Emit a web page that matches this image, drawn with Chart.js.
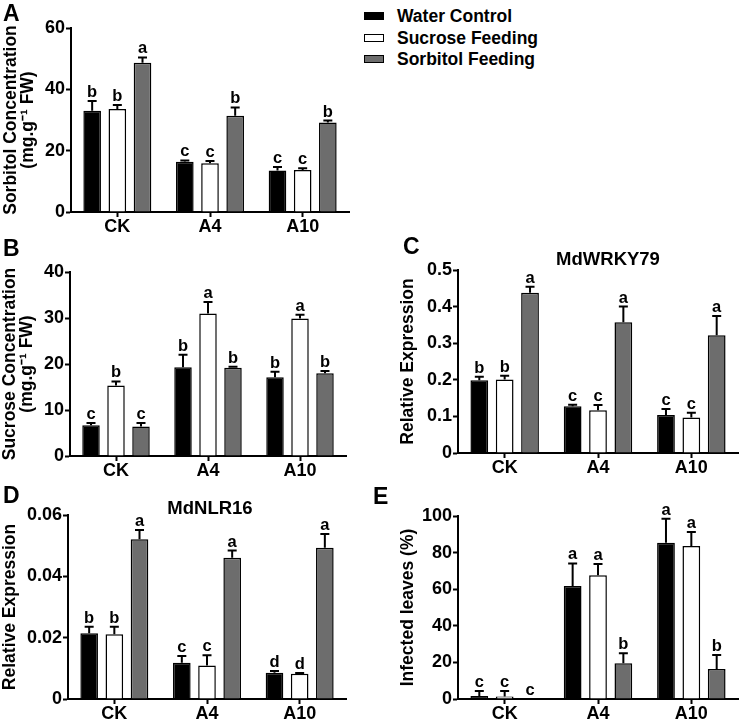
<!DOCTYPE html>
<html>
<head>
<meta charset="utf-8">
<script src="https://cdn.jsdelivr.net/npm/chart.js@4.4.1/dist/chart.umd.min.js"></script>
<style>
  body { margin: 0; background: #fff; }
  #page { position: relative; width: 740px; height: 721px; overflow: hidden;
          font-family: "Liberation Sans", Arial, sans-serif; font-weight: bold; color: #000; }
  canvas { position: absolute; }
  .letter { position: absolute; font-size: 23px; line-height: 1; }
  .sub { position: absolute; width: 200px; text-align: center; font-size: 18.5px; line-height: 1; }
  .key { position: absolute; left: 364px; font-size: 17.5px; line-height: 1; }
  .key span { position: absolute; left: 0; width: 18px; height: 6px; border: 1.5px solid #000; }
  .key b { position: absolute; left: 33px; white-space: nowrap; }
</style>
</head>
<body>
<div id="page">
  <canvas id="chartA"></canvas>
  <canvas id="chartB"></canvas>
  <canvas id="chartC"></canvas>
  <canvas id="chartD"></canvas>
  <canvas id="chartE"></canvas>

  <div class="letter" style="left:3px;top:2px">A</div>
  <div class="letter" style="left:3px;top:237px">B</div>
  <div class="letter" style="left:403px;top:235px">C</div>
  <div class="letter" style="left:3px;top:484px">D</div>
  <div class="letter" style="left:373px;top:485px">E</div>

  <div class="sub" style="left:508px;top:250px">MdWRKY79</div>
  <div class="sub" style="left:110px;top:499px">MdNLR16</div>

  <div id="legend"></div>
</div>

<script>
// categories and series
const groups = ["CK", "A4", "A10"];
const seriesNames = ["Water Control", "Sucrose Feeding", "Sorbitol Feeding"];
const seriesColors = ["#000000", "#ffffff", "#6d6d6d"];

// A: sorbitol concentration (mg/g FW)
const sorbWater = [33.0, 16.4, 13.5];
const sorbSucrose = [33.6, 15.9, 13.7];
const sorbSorbitol = [48.7, 31.4, 29.2];
const sorbErr = [[3.2, 0.4, 1.2], [1.3, 0.7, 0.6], [1.7, 2.7, 0.6]];
const sorbLetters = [["b", "c", "c"], ["b", "c", "c"], ["a", "b", "b"]];
const sorbTicks = [0, 20, 40, 60];

// B: sucrose concentration (mg/g FW)
const sucWater = [6.7, 19.3, 17.1];
const sucSucrose = [15.3, 31.0, 29.9];
const sucSorbitol = [6.4, 19.2, 18.0];
const sucErr = [[0.5, 2.7, 1.2], [0.9, 2.5, 0.8], [0.8, 0.2, 0.5]];
const sucLetters = [["c", "b", "b"], ["b", "a", "a"], ["c", "b", "b"]];
const sucTicks = [0, 10, 20, 30, 40];

// C: MdWRKY79 relative expression
const wrkyWater = [0.199, 0.128, 0.104];
const wrkySucrose = [0.201, 0.117, 0.097];
const wrkySorbitol = [0.438, 0.357, 0.322];
const wrkyErr = [[0.009, 0.004, 0.016], [0.010, 0.014, 0.013], [0.016, 0.043, 0.052]];
const wrkyLetters = [["b", "c", "c"], ["b", "c", "c"], ["a", "a", "a"]];
const wrkyTicks = [0, 0.1, 0.2, 0.3, 0.4, 0.5];

// D: MdNLR16 relative expression
const nlrWater = [0.0214, 0.0118, 0.0086];
const nlrSucrose = [0.0211, 0.0109, 0.0082];
const nlrSorbitol = [0.0521, 0.0461, 0.0493];
const nlrErr = [[0.0022, 0.0022, 0.0005], [0.0025, 0.0034, 0.0003], [0.0030, 0.0023, 0.0045]];
const nlrLetters = [["b", "c", "d"], ["b", "c", "d"], ["a", "a", "a"]];
const nlrTicks = [0, 0.02, 0.04, 0.06];

// E: infected leaves (%)
const infWater = [1.6, 61.7, 85.4];
const infSucrose = [1.3, 67.6, 83.6];
const infSorbitol = [0, 19.5, 16.4];
const infErr = [[2.8, 12.4, 13.1], [3.1, 6.2, 7.7], [0, 5.5, 7.6]];
const infLetters = [["c", "a", "a"], ["c", "a", "a"], ["c", "b", "b"]];
const infTicks = [0, 20, 40, 60, 80, 100];

Chart.defaults.font.family = "'Liberation Sans', Arial, sans-serif";
Chart.defaults.font.weight = "bold";
Chart.defaults.color = "#000";

const X_AXIS_H = 22;

// draws the upper error bar and the significance letter on every bar
const errorBars = {
  id: "errorBars",
  afterDatasetsDraw(chart) {
    const ctx = chart.ctx;
    const yScale = chart.scales.y;
    ctx.save();
    ctx.strokeStyle = "#000";
    ctx.lineWidth = 2;
    ctx.fillStyle = "#000";
    ctx.font = "bold 16.5px 'Liberation Sans', Arial, sans-serif";
    ctx.textAlign = "center";
    ctx.textBaseline = "alphabetic";
    chart.data.datasets.forEach((ds, i) => {
      chart.getDatasetMeta(i).data.forEach((bar, j) => {
        const v = ds.data[j];
        const e = ds.errors[j];
        const top = yScale.getPixelForValue(v + e);
        if (e > 0) {
          ctx.beginPath();
          ctx.moveTo(bar.x, bar.y);
          ctx.lineTo(bar.x, top);
          ctx.moveTo(bar.x - 4.5, top);
          ctx.lineTo(bar.x + 4.5, top);
          ctx.stroke();
        }
        ctx.fillText(ds.letters[j], bar.x, top - 4);
      });
    });
    ctx.restore();
  },
};

function barChart(id, box, plot, yTicks, yTitle, titleX, series, errs, letters) {
  const canvas = document.getElementById(id);
  canvas.width = box.w;
  canvas.height = box.h;
  canvas.style.left = box.x + "px";
  canvas.style.top = box.y + "px";
  const axisLine = { display: true, color: "#000", width: 2 };
  const tickGrid = { drawOnChartArea: false, tickLength: 5, tickWidth: 2, tickColor: "#000" };
  return new Chart(canvas, {
    type: "bar",
    data: {
      labels: groups,
      datasets: series.map((vals, i) => ({
        label: seriesNames[i],
        data: vals,
        errors: errs[i],
        letters: letters[i],
        backgroundColor: seriesColors[i],
        borderColor: "#000",
        borderWidth: 1.5,
        categoryPercentage: 0.815,
        barPercentage: 0.7,
      })),
    },
    options: {
      responsive: false,
      animation: false,
      devicePixelRatio: 1,
      layout: {
        padding: {
          left: 0,
          top: plot.t - box.y,
          right: box.x + box.w - plot.r,
          bottom: box.y + box.h - plot.b - X_AXIS_H,
        },
      },
      plugins: { legend: { display: false }, tooltip: { enabled: false } },
      scales: {
        x: {
          grid: Object.assign({ offset: false }, tickGrid),
          border: axisLine,
          ticks: { font: { size: 18, lineHeight: 1 }, padding: 1, maxRotation: 0 },
          afterFit: (s) => { s.height = X_AXIS_H; },
        },
        y: {
          min: 0,
          max: yTicks[yTicks.length - 1],
          afterBuildTicks: (s) => { s.ticks = yTicks.map((v) => ({ value: v })); },
          grid: tickGrid,
          border: axisLine,
          ticks: { font: { size: 18 }, padding: 1, callback: (v) => String(v) },
          title: {
            display: true,
            text: yTitle,
            font: { size: 17.5, lineHeight: 1 },
            padding: { top: titleX - box.x - 8.75, bottom: 0 },
          },
          afterFit: (s) => { s.width = plot.l - box.x; },
        },
      },
    },
    plugins: [errorBars],
  });
}

barChart("chartA", { x: 0, y: 0, w: 355, h: 245 }, { l: 71, r: 349, t: 28, b: 212 },
  sorbTicks, ["Sorbitol Concentration", "(mg.g\u207B\u00B9 FW)"], 11,
  [sorbWater, sorbSucrose, sorbSorbitol], sorbErr, sorbLetters);

barChart("chartB", { x: 0, y: 235, w: 355, h: 250 }, { l: 70, r: 346, t: 272, b: 456 },
  sucTicks, ["Sucrose Concentration", "(mg.g\u207B\u00B9 FW)"], 10,
  [sucWater, sucSucrose, sucSorbitol], sucErr, sucLetters);

barChart("chartC", { x: 385, y: 235, w: 355, h: 250 }, { l: 458, r: 738, t: 270, b: 453 },
  wrkyTicks, "Relative Expression", 408,
  [wrkyWater, wrkySucrose, wrkySorbitol], wrkyErr, wrkyLetters);

barChart("chartD", { x: 0, y: 480, w: 355, h: 241 }, { l: 68, r: 346, t: 515, b: 699 },
  nlrTicks, "Relative Expression", 10,
  [nlrWater, nlrSucrose, nlrSorbitol], nlrErr, nlrLetters);

barChart("chartE", { x: 385, y: 480, w: 355, h: 241 }, { l: 458, r: 738, t: 516, b: 699 },
  infTicks, "Infected leaves (%)", 408,
  [infWater, infSucrose, infSorbitol], infErr, infLetters);

// legend in the top-right corner
const legend = document.getElementById("legend");
seriesNames.forEach((name, i) => {
  const row = document.createElement("div");
  row.className = "key";
  row.style.top = (8 + i * 21.5) + "px";
  row.innerHTML = '<span style="top:4px;background:' + seriesColors[i] + '"></span><b>' + name + "</b>";
  legend.appendChild(row);
});
</script>
</body>
</html>
